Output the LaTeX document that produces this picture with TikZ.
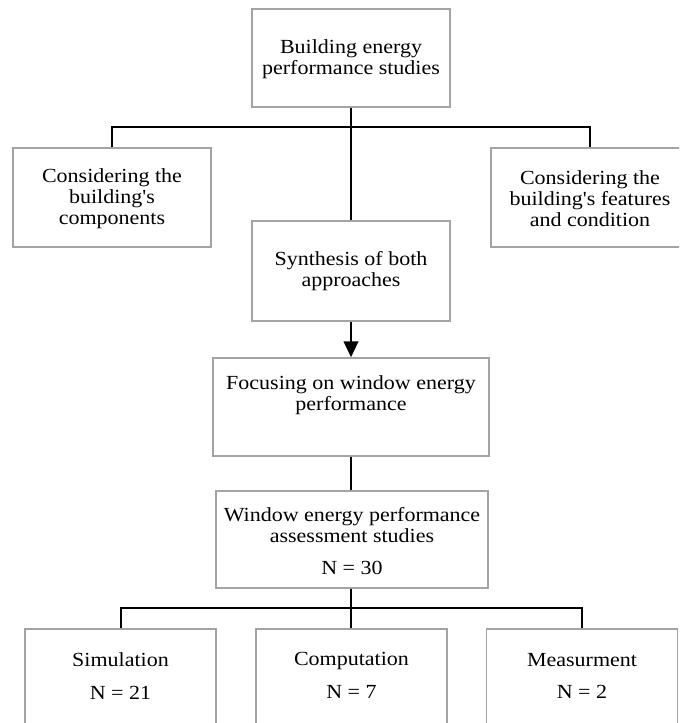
\documentclass[tikz,border=0pt]{standalone}
\usepackage{fontspec}
\setmainfont{Liberation Serif}[Ligatures=TeXOff, FakeStretch=1.1]
\usetikzlibrary{arrows.meta}
\begin{document}
\def\u{0.75pt}
\begin{tikzpicture}[x=0.75pt,y=-0.75pt,
  box/.style={draw=black!36, line width=1.1pt, fill=white, inner sep=0pt},
  txt/.style={align=center, inner sep=0pt, font=\fontsize{15}{15.6}\selectfont},
  conn/.style={draw=black, line width=1.5pt},
  arr/.style={conn, -{Triangle[length=12pt,width=11pt]}}]
\useasboundingbox (0,0) rectangle (679,723);
\clip (0,0) rectangle (679,723);
% boxes
\node[box, minimum width=198*\u, minimum height=98*\u] (top) at (351,58) {};
\node[box, minimum width=198*\u, minimum height=99*\u] (left) at (112,197.5) {};
\node[box, minimum width=198*\u, minimum height=99*\u] (right) at (590,197.5) {};
\node[box, minimum width=198*\u, minimum height=100*\u] (syn) at (351,271) {};
\node[box, minimum width=276*\u, minimum height=98*\u] (focus) at (351,407) {};
\node[box, minimum width=272*\u, minimum height=97*\u] (win) at (352,539.5) {};
\node[box, minimum width=191*\u, minimum height=98*\u] (b1) at (120.5,678) {};
\node[box, minimum width=191*\u, minimum height=98*\u] (b2) at (351.5,678) {};
\node[box, minimum width=191*\u, minimum height=98*\u] (b3) at (582,678) {};
% texts
\node[txt] (ttop) at (351,59) {Building energy\\performance studies};
\node[txt] (tleft) at (112,198.5) {Considering the\\building's\\components};
\node[txt] (tright) at (590,198.5) {Considering the\\building's features\\and condition};
\node[txt] (tsyn) at (351,271) {Synthesis of both\\approaches};
\node[txt] (tfocus) at (351,395) {Focusing on window energy\\performance};
\node[txt] (twin) at (352,525) {Window energy performance\\assessment studies};
\node[txt] (twinn) at (352,568) {N = 30};
\node[txt] (tb1) at (120.5,660) {Simulation};
\node[txt] (tb1n) at (120.5,693) {N = 21};
\node[txt] (tb2) at (351.5,661.5) {Computation};
\node[txt] (tb2n) at (351.5,692) {N = 7};
\node[txt] (tb3) at (582,660) {Measurment};
\node[txt] (tb3n) at (582,692) {N = 2};
% connectors
\coordinate (j1) at (351,127);
\coordinate (j2) at (351,608);
\draw[conn] (top.south) -- (syn.north);
\draw[conn] (left.north) |- (j1) -| (right.north);
\draw[arr] (syn.south) -- (focus.north);
\draw[conn] (focus.south) -- (focus.south |- win.north);
\draw[conn] (win.south -| j2) -- (b2.north -| j2);
\draw[conn] (b1.north) |- (j2) -| (b3.north);
\end{tikzpicture}
\end{document}
